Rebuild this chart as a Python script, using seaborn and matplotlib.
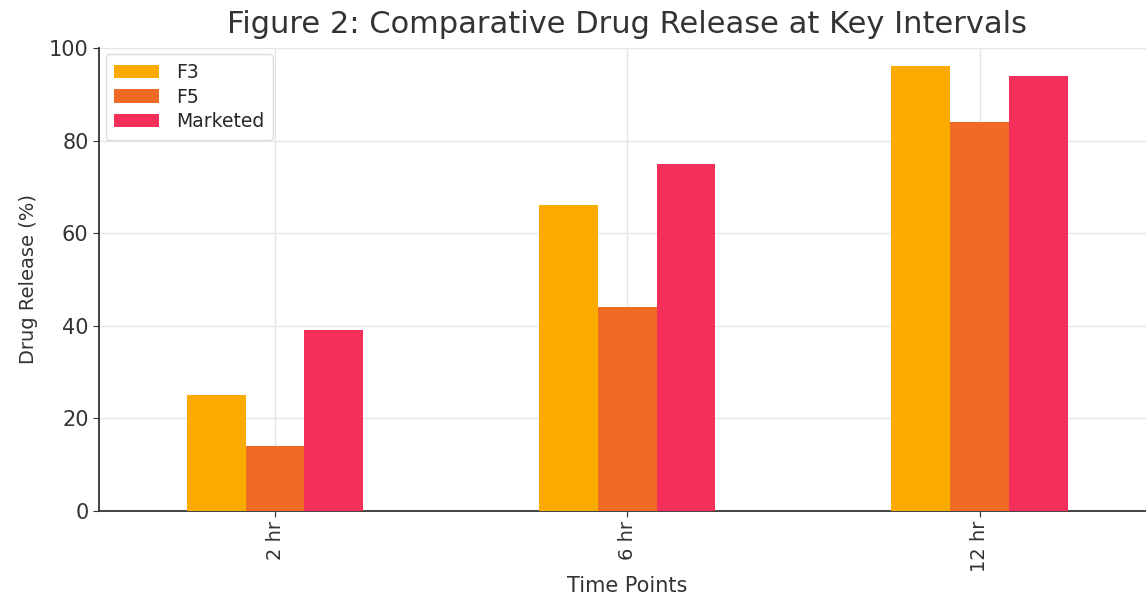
import pandas as pd
import matplotlib.pyplot as plt
import seaborn as sns

time_points = ['2 hr', '6 hr', '12 hr']
f3 = [25, 66, 96]
f5 = [14, 44, 84]
marketed = [39, 75, 94]

df = pd.DataFrame({'Time Points': time_points, 'F3': f3, 'F5': f5, 'Marketed': marketed})
long_df = df.melt(id_vars='Time Points', var_name='Formulation', value_name='Drug Release (%)')

sns.set_style('whitegrid')
plt.rcParams['font.family'] = ['DejaVu Sans']

fig = plt.figure(figsize=(11.46, 5.99), dpi=100)
ax = fig.add_axes([0.0864, 0.147, 0.922, 0.773])

palette = {'F3': '#FBAA00', 'F5': '#EF6A22', 'Marketed': '#F4305A'}
sns.barplot(data=long_df, x='Time Points', y='Drug Release (%)', hue='Formulation',
            palette=palette, width=0.5, gap=0, saturation=1, linewidth=0, ax=ax, zorder=3)

ax.set_xlim(-0.5, 2.5)
ax.set_ylim(0, 100)
ax.set_yticks([0, 20, 40, 60, 80, 100])
ax.grid(True, color='#e6e6e6', linewidth=1, zorder=0)
ax.set_axisbelow(True)
for s in ['top', 'right']:
    ax.spines[s].set_visible(False)
for s in ['left', 'bottom']:
    ax.spines[s].set_color('#333333')
    ax.spines[s].set_linewidth(1.3)
ax.tick_params(axis='both', labelsize=15, colors='#333333', length=4, left=True, bottom=True)
ax.tick_params(axis='x', labelrotation=90, labelsize=14, pad=3)

ax.set_title('Figure 2: Comparative Drug Release at Key Intervals', fontsize=22, color='#333333', pad=11)
ax.set_xlabel('Time Points', fontsize=15, color='#333333', labelpad=3)
ax.set_ylabel('Drug Release (%)', fontsize=14, color='#333333', labelpad=8)

leg = ax.legend(loc='upper left', fontsize=13.5, frameon=True, handlelength=2.4, handleheight=0.7,
                handletextpad=0.9, borderpad=0.45, labelspacing=0.3, borderaxespad=0.35, title=None)
leg.get_frame().set_edgecolor('#dddddd')
leg.get_frame().set_alpha(1)

fig.savefig('out.png', dpi=100)
